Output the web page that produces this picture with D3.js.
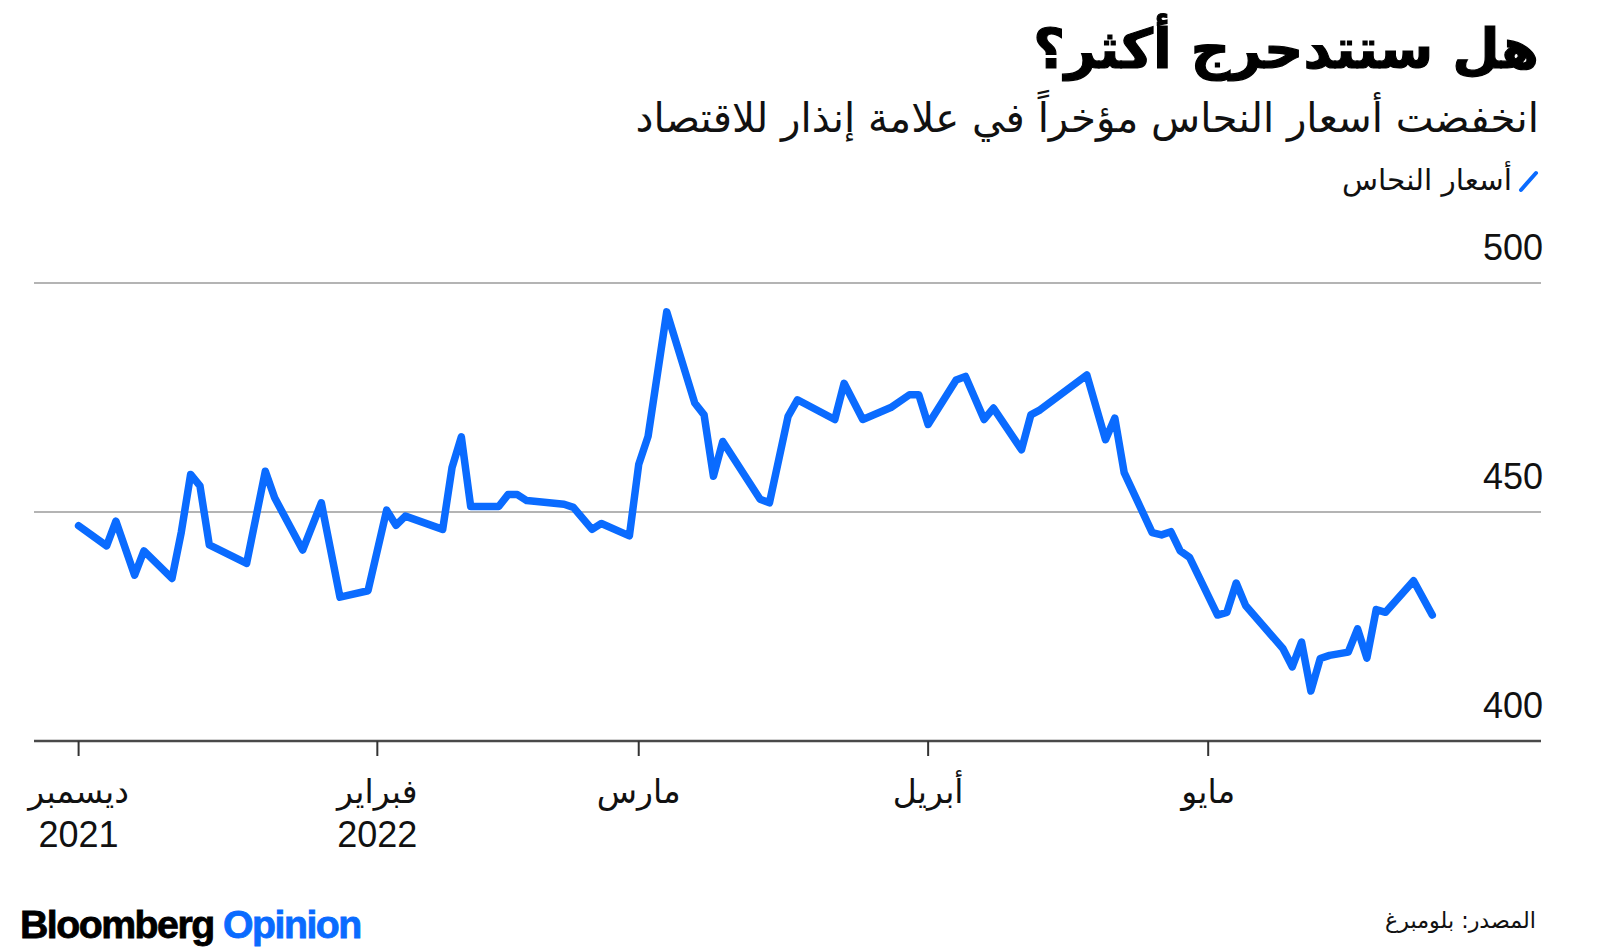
<!DOCTYPE html>
<html><head><meta charset="utf-8">
<script src="https://cdn.jsdelivr.net/npm/d3@7"></script>
<style>
html,body{margin:0;padding:0;background:#fff;}
svg{display:block;}
</style></head>
<body>
<svg id="chart" width="1600" height="952"></svg>
<script>
// ---- data ----
const titleText = "هل ستتدحرج أكثر؟";
const subtitleText = "انخفضت أسعار النحاس مؤخراً في علامة إنذار للاقتصاد";
const legendLabel = "أسعار النحاس";
const sourceText = "المصدر: بلومبرغ";

const dates = [
 "2021-12-31","2022-01-03","2022-01-04","2022-01-06","2022-01-07","2022-01-10","2022-01-11","2022-01-12","2022-01-13","2022-01-14",
 "2022-01-18","2022-01-20","2022-01-21","2022-01-24","2022-01-26","2022-01-28","2022-01-31","2022-02-02","2022-02-03","2022-02-04",
 "2022-02-08","2022-02-09","2022-02-10","2022-02-11","2022-02-14","2022-02-15","2022-02-16","2022-02-17","2022-02-21","2022-02-22",
 "2022-02-24","2022-02-25","2022-02-28","2022-03-01","2022-03-02","2022-03-04","2022-03-07","2022-03-08","2022-03-09","2022-03-10",
 "2022-03-14","2022-03-15","2022-03-17","2022-03-18","2022-03-22","2022-03-23","2022-03-25","2022-03-28","2022-03-30","2022-03-31",
 "2022-04-01","2022-04-04","2022-04-05","2022-04-07","2022-04-08","2022-04-11","2022-04-12","2022-04-13","2022-04-18","2022-04-20",
 "2022-04-21","2022-04-22","2022-04-25","2022-04-26","2022-04-27","2022-04-28","2022-04-29","2022-05-02","2022-05-03","2022-05-04",
 "2022-05-05","2022-05-09","2022-05-10","2022-05-11","2022-05-12","2022-05-13","2022-05-14","2022-05-16","2022-05-17","2022-05-18",
 "2022-05-19","2022-05-20","2022-05-23","2022-05-25"
];
const prices = [
 447.0,442.6,448.0,436.2,441.5,435.5,445.6,458.2,455.7,442.8,
 438.8,458.9,453.1,441.7,452.0,431.4,432.8,450.4,447.1,449.1,
 446.2,459.7,466.4,451.2,451.2,453.8,453.8,452.5,451.7,451.0,
 446.2,447.5,444.8,460.4,466.5,493.7,473.8,471.2,457.8,465.4,
 452.8,452.0,470.9,474.5,470.2,478.1,470.2,472.8,475.6,475.6,
 469.1,478.8,479.6,470.2,472.7,463.6,471.2,472.3,479.9,465.8,
 470.5,458.6,445.5,445.0,445.7,441.5,440.1,427.5,428.1,434.5,
 429.6,420.2,416.2,421.6,410.9,418.0,418.7,419.4,424.5,418.1,
 428.7,428.1,435.0,427.5
];
const yTicks = [400, 450, 500];
const xTickDates = ["2021-12-31","2022-02-01","2022-03-01","2022-04-01","2022-05-01"];
const xTickMonths = ["ديسمبر","فبراير","مارس","أبريل","مايو"];
const xTickYears = ["2021","2022","","",""];

// ---- setup ----
const parse = d3.utcParse("%Y-%m-%d");
const data = dates.map((d,i)=>({date:parse(d), value:prices[i]}));
const svg = d3.select("#chart");
const ARABIC = "'DejaVu Sans', 'Noto Sans', sans-serif";
const LATIN = "'Liberation Sans', Arial, sans-serif";
const blue = "#0a6bff";

const x = d3.scaleUtc()
  .domain([parse("2021-12-31"), parse("2022-05-01")])
  .range([78.6, 1208.2]);
const y = d3.scaleLinear().domain([400, 500]).range([741, 283]);

function fit(sel, target, base){
  const w = sel.node().getComputedTextLength();
  sel.attr("font-size", base * target / w);
}

// ---- titles ----
const t = svg.append("text").text(titleText)
  .attr("x", 1539).attr("y", 68).attr("text-anchor","end")
  .attr("font-family", ARABIC).attr("font-weight", 700)
  .attr("font-size", 50).attr("fill","#000")
  .attr("stroke","#000").attr("stroke-width",1.2);
fit(t, 506, 50);

const st = svg.append("text").text(subtitleText)
  .attr("x", 1539).attr("y", 132).attr("text-anchor","end")
  .attr("font-family", ARABIC).attr("font-size", 34).attr("fill","#111");
fit(st, 904, 34);

// legend
svg.append("line").attr("x1",1521).attr("y1",190).attr("x2",1536).attr("y2",173)
  .attr("stroke", blue).attr("stroke-width",4).attr("stroke-linecap","round");
const lg = svg.append("text").text(legendLabel)
  .attr("x", 1512).attr("y", 190).attr("text-anchor","end")
  .attr("font-family", ARABIC).attr("font-size", 22).attr("fill","#111");
fit(lg, 170, 22);

// ---- grid ----
const g = svg.append("g");
g.selectAll("line.grid").data(yTicks.filter(v=>v!==400)).join("line")
  .attr("class","grid")
  .attr("x1",34).attr("x2",1541)
  .attr("y1",d=>y(d)).attr("y2",d=>y(d))
  .attr("stroke","#b4b4b4").attr("stroke-width",2.2);

g.selectAll("text.ylab").data(yTicks).join("text")
  .attr("class","ylab")
  .attr("x",1543).attr("y",d=>y(d)-23)
  .attr("text-anchor","end")
  .attr("font-family", LATIN).attr("font-size",36).attr("fill","#111")
  .text(d=>d);

// x axis baseline
g.append("line").attr("x1",34).attr("x2",1541)
  .attr("y1",y(400)).attr("y2",y(400))
  .attr("stroke","#4a4a4a").attr("stroke-width",2.4);

const xt = g.selectAll("g.xt").data(xTickDates).join("g")
  .attr("class","xt")
  .attr("transform",d=>`translate(${x(parse(d))},0)`);
xt.append("line").attr("y1",y(400)).attr("y2",y(400)+15)
  .attr("stroke","#333").attr("stroke-width",2);
xt.append("text").text((d,i)=>xTickMonths[i])
  .attr("y",803).attr("text-anchor","middle")
  .attr("font-family", ARABIC).attr("font-size",33).attr("fill","#111");
xt.append("text").text((d,i)=>xTickYears[i])
  .attr("y",847).attr("text-anchor","middle")
  .attr("font-family", LATIN).attr("font-size",36).attr("fill","#111");

// ---- line ----
const line = d3.line().x(d=>x(d.date)).y(d=>y(d.value));
svg.append("path").datum(data).attr("d",line)
  .attr("fill","none").attr("stroke",blue).attr("stroke-width",7.5)
  .attr("stroke-linejoin","round").attr("stroke-linecap","round");

// ---- footer ----
const ft = svg.append("text").attr("x",20).attr("y",938)
  .attr("font-family", LATIN).attr("font-weight",700).attr("font-size",34)
  .attr("letter-spacing","-1.5").attr("stroke-width",0.8);
ft.append("tspan").text("Bloomberg").attr("fill","#000").attr("stroke","#000");
ft.append("tspan").text(" Opinion").attr("fill", blue).attr("stroke",blue);
fit(ft, 337, 34);

const src = svg.append("text").text(sourceText)
  .attr("x",1536).attr("y",928).attr("text-anchor","end")
  .attr("font-family", ARABIC).attr("font-size",20).attr("fill","#111");
fit(src, 151, 20);
</script>
</body></html>
